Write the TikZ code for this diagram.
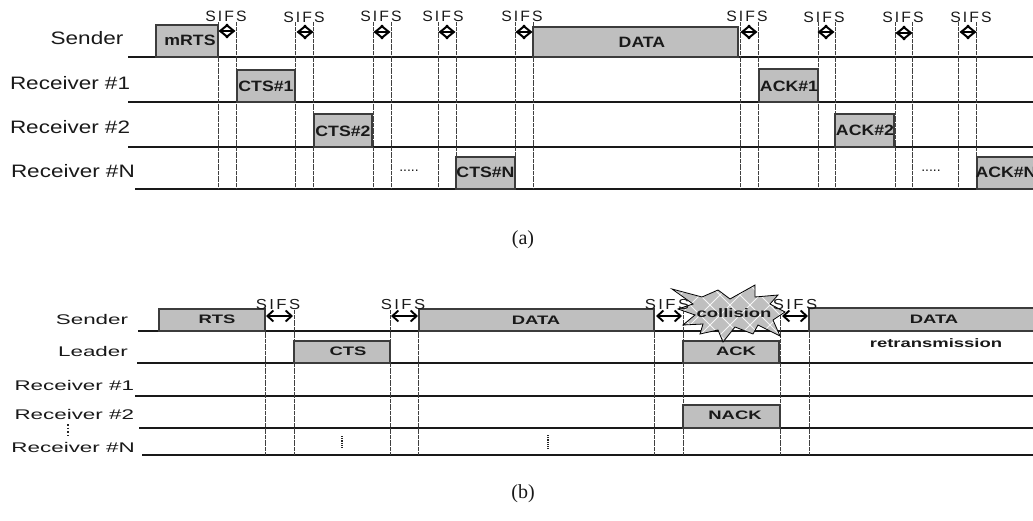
\documentclass[tikz,border=0pt]{standalone}
\usepackage{fontspec}
\usetikzlibrary{arrows.meta}
\setmainfont{Liberation Sans}
\newfontfamily\laba[FakeStretch=1.25]{Liberation Sans}
\newfontfamily\labb[FakeStretch=1.6]{Liberation Sans}
\newfontfamily\boxa[FakeStretch=1.18]{Liberation Sans Bold}
\newfontfamily\boxb[FakeStretch=1.5]{Liberation Sans Bold}
\newfontfamily\sifsa[LetterSpace=14,FakeStretch=1.05]{Liberation Sans}
\newfontfamily\sifsb[LetterSpace=17,FakeStretch=1.15]{Liberation Sans}
\newfontfamily\capf{Liberation Serif}
\definecolor{pk}{HTML}{BFBFBF}
\definecolor{edge}{HTML}{3C3C3C}
\tikzset{
  x=1pt,y=-1pt,
  timeline/.style={line width=1.6pt,draw=black!90},
  guide/.style={line width=.6pt,draw=black!75,dash pattern=on 2pt off .4pt},
  packet/.style={draw=edge,line width=1.3pt,fill=pk,inner sep=0pt,outer sep=0pt},
  txt/.style={inner sep=0pt,outer sep=0pt,text=black!90},
  taga/.style={txt,font=\laba\fontsize{18}{20}\selectfont},
  tagb/.style={txt,font=\labb\fontsize{14}{16}\selectfont},
  pa/.style={txt,font=\boxa\fontsize{15}{17}\selectfont},
  pb/.style={txt,font=\boxb\fontsize{12.3}{14}\selectfont},
  sa/.style={txt,font=\sifsa\fontsize{15}{17}\selectfont},
  sb/.style={txt,font=\sifsb\fontsize{14.5}{16}\selectfont},
  diam/.style={line width=2pt,{Straight Barb[length=8pt,width=13pt,line width=2pt]}-{Straight Barb[length=8pt,width=13pt,line width=2pt]}},
  span/.style={line width=2pt,{Straight Barb[length=6pt,width=11pt,line width=1.9pt]}-{Straight Barb[length=6pt,width=11pt,line width=1.9pt]}},
  dotsv/.style={line width=2.4pt,draw=black!85,dash pattern=on 1.2pt off 1pt},
}
\begin{document}
\begin{tikzpicture}
\path[use as bounding box] (0,0) rectangle (1033,521);
% ---- (a)
\foreach \n/\xa/\yy in {sd/128/57,ra/128/102,rb/128/147,rn/135/189}{
  \coordinate (\n L) at (\xa,\yy); \coordinate (\n R) at (1033,\yy);
  \draw[timeline] (\n L) -- (\n R);
}
\foreach \i/\xx in {1/218,2/236,3/295,4/313,5/373,6/391,7/438,8/456,9/515,10/533,11/740,12/758,13/818,14/835,15/895,16/912,17/958,18/976}{
  \coordinate (gt\i) at (\xx,22); \coordinate (gb\i) at (\xx,188);
  \draw[guide] (gt\i) -- (gb\i);
}
\foreach \n/\xa/\ya/\xb/\yb/\tx/\ty/\s in {
  mrts/156/25/218/57/190/40/mRTS,
  ctsa/237/70/295/102/266/86/CTS\#1,
  ctsb/314/114/372/147/343/131/CTS\#2,
  ctsn/456/157/515/189/485.5/172/CTS\#N,
  dataa/533/27/738/57/642/42/DATA,
  acka/759/69/818/102/789/86/ACK\#1,
  ackb/835/114/894/147/865/130/ACK\#2,
  ackn/977/157/1045/189/1006/172/ACK\#N}{
  \pgfmathsetmacro\cx{(\xa+\xb)/2}\pgfmathsetmacro\cy{(\ya+\yb)/2}
  \pgfmathsetmacro\bw{\xb-\xa}\pgfmathsetmacro\bh{\yb-\ya}
  \node[packet,minimum width=\bw pt,minimum height=\bh pt] (\n) at (\cx,\cy) {};
  \node[pa] (\n T) at (\tx,\ty) {\s};
}
\foreach \i/\xx/\yy in {1/227/31,2/305/32,3/382/32,4/447/32,5/524/32,6/749/32,7/826/32,8/904/33,9/968/32}{
  \coordinate (da\i) at (\xx-8.5,\yy); \coordinate (db\i) at (\xx+8.5,\yy);
  \draw[diam] (da\i) -- (db\i);
}
\foreach \i/\xx/\yy in {1/226/16,2/304/17,3/381/16,4/443/16,5/522/16,6/747/16,7/824/17,8/903/17,9/971/17}{
  \node[sa] (sifsa\i) at (\xx,\yy) {SIFS};
}
\node[taga] (lsd) at (87,38) {Sender};
\node[taga,anchor=west] (lra) at (10,83) {Receiver \#1};
\node[taga,anchor=west] (lrb) at (10,127) {Receiver \#2};
\node[taga,anchor=west] (lrn) at (11,171) {Receiver \#N};
\node[txt,font=\fontsize{14}{15}\selectfont] (dota) at (409,171) {.....};
\node[txt,font=\fontsize{14}{15}\selectfont] (dotb) at (931,171) {.....};
\node[txt,font=\capf\fontsize{20}{22}\selectfont] (capa) at (523,240) {(a)};
% ---- (b)
\foreach \n/\xa/\yy in {bsd/138/331,bld/137/363,bra/135/396,brb/139/428,brn/142/455}{
  \coordinate (\n L) at (\xa,\yy); \coordinate (\n R) at (1033,\yy);
  \draw[timeline,line width=1.4pt] (\n L) -- (\n R);
}
\foreach \i/\xx in {1/265,2/294,3/390,4/418,5/654,6/683,7/780,8/809}{
  \coordinate (ht\i) at (\xx,310); \coordinate (hb\i) at (\xx,455);
  \draw[guide] (ht\i) -- (hb\i);
}
\foreach \n/\xa/\ya/\xb/\yb/\tx/\ty/\s in {
  brts/159/309/265/331/217/319/RTS,
  bcts/294/341/390/363/348/351/CTS,
  bdata/419/309/654/331/536/320/DATA,
  back/683/341/779/363/736/351/ACK,
  bnack/683/405/780/428/735/415/NACK,
  bdatb/809/308/1045/331/934/319/DATA}{
  \pgfmathsetmacro\cx{(\xa+\xb)/2}\pgfmathsetmacro\cy{(\ya+\yb)/2}
  \pgfmathsetmacro\bw{\xb-\xa}\pgfmathsetmacro\bh{\yb-\ya}
  \node[packet,minimum width=\bw pt,minimum height=\bh pt] (\n) at (\cx,\cy) {};
  \node[pb] (\n T) at (\tx,\ty) {\s};
}
% burst
\def\burst{(672,289) -- (702,297) -- (718,290) -- (730,299) -- (755,285) -- (755,297) -- (778,295) -- (770,304) -- (785,312) -- (773,320) -- (780,336) -- (758,325) -- (753,334) -- (735,327) -- (723,342) -- (718,330) -- (700,334) -- (703,324) -- (683,325) -- (695,315) -- (678,309) -- (693,304) -- cycle}
\fill[pk] \burst;
\begin{scope}
  \clip \burst;
  \foreach \k in {0,...,10}{
    \draw[white!85!pk,line width=.8pt] (625+\k*20,350) -- ++(70,-70);
    \draw[white!85!pk,line width=.8pt] (625+\k*20,280) -- ++(70,70);
  }
\end{scope}
\draw[black,line width=.8pt,line join=miter] \burst;
\foreach \i/\xa/\xb in {1/266/293,2/391/418,3/656/682,4/782/808}{
  \coordinate (ea\i) at (\xa,316); \coordinate (eb\i) at (\xb,316);
  \draw[span] (ea\i) -- (eb\i);
}
\foreach \i/\xx in {1/278,2/403,3/667,4/795}{
  \node[sb] (sifsb\i) at (\xx,304.5) {SIFS};
}
\node[pb] (coll) at (734,313) {collision};
\node[pb] (retr) at (936,343) {retransmission};
\node[tagb] (bls) at (92,319) {Sender};
\node[tagb] (bll) at (93,351) {Leader};
\node[tagb,anchor=west] (blr1) at (14.5,385) {Receiver \#1};
\node[tagb,anchor=west] (blr2) at (14.5,414) {Receiver \#2};
\node[tagb,anchor=west] (blrn) at (11.5,447) {Receiver \#N};
\coordinate (va) at (68,424); \coordinate (vb) at (68,435); \draw[dotsv,line width=2.5pt,dash pattern=on 1.6pt off 2pt] (va) -- (vb);
\coordinate (vc) at (342,436); \coordinate (vd) at (342,449); \draw[dotsv] (vc) -- (vd);
\coordinate (ve) at (548,435); \coordinate (vf) at (548,449); \draw[dotsv] (ve) -- (vf);
\node[txt,font=\capf\fontsize{20}{22}\selectfont] (capb) at (523,494) {(b)};
\end{tikzpicture}
\end{document}
